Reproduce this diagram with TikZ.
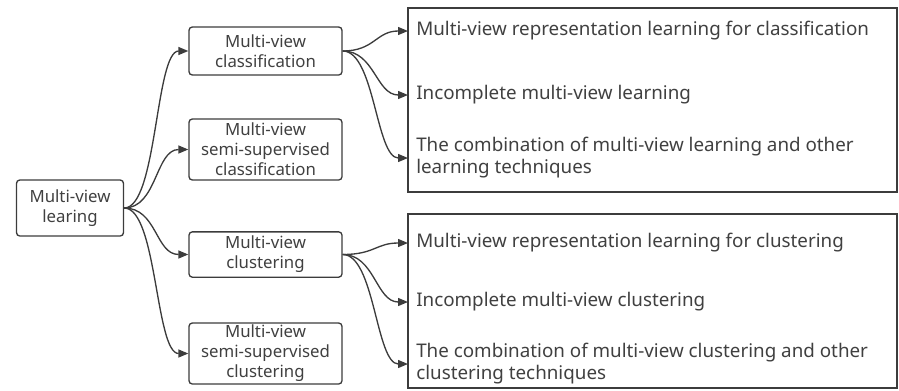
\documentclass[tikz,border=0pt]{standalone}
\usepackage{fontspec}
\setmainfont{Noto Sans}
\usepackage{tikz}
\usetikzlibrary{arrows.meta, positioning}
\definecolor{lineGray}{RGB}{60, 60, 60}
\definecolor{textGray}{RGB}{64, 64, 64}

\begin{document}
\begin{tikzpicture}[x=0.75pt, y=-0.75pt,
	topic/.style={draw=lineGray, line width=1pt, rounded corners=2.5pt, align=center,
		text=textGray, inner sep=0pt, font=\fontsize{12.6}{15}\selectfont},
	item/.style={anchor=west, inner xsep=6pt, inner ysep=0pt, align=left,
		text=textGray, font=\fontsize{14.1}{16.5}\selectfont},
	link/.style={draw=lineGray, line width=1pt, -{Triangle[length=7.5pt, width=6pt]}}]
			\useasboundingbox (0,0) rectangle (899,390);
			% Root and first level
			\node [topic, minimum width=80.25pt, minimum height=42pt] (root) at (70,208) {Multi-view\\learing};
			\node [topic, minimum width=114.75pt, minimum height=36pt] (cls) at (265.5,51) {Multi-view\\classification};
			\node [topic, minimum width=114.75pt, minimum height=45.75pt] (semicls) at (265.5,149.5) {Multi-view\\semi-supervised\\classification};
			\node [topic, minimum width=114.75pt, minimum height=34pt] (clu) at (265.5,254.5) {Multi-view\\clustering};
			\node [topic, minimum width=114.75pt, minimum height=45.75pt] (semiclu) at (265.5,353.5) {Multi-view\\semi-supervised\\clustering};
			
			% Right boxes
			\draw [lineGray, line width=1pt] (408,8) rectangle (897,192);
			\draw [lineGray, line width=1pt] (408,214) rectangle (897,388);
			
			\node [item] (cls1) at (408,31) {Multi-view representation learning for classification};
			\node [item] (cls2) at (408,95) {Incomplete multi-view learning};
			\node [item] (cls3) at (408,158) {The combination of multi-view learning and other\\learning techniques};
			\node [item] (clu1) at (408,243) {Multi-view representation learning for clustering};
			\node [item] (clu2) at (408,302) {Incomplete multi-view clustering};
			\node [item] (clu3) at (408,364) {The combination of multi-view clustering and other\\clustering techniques};
			
			% Links
			\foreach \t in {cls, semicls, clu, semiclu}
			{
				\draw [link] (root.east) .. controls +(33,0) and +(-33,0) .. (\t.west);
			}
			\foreach \t in {cls1, cls2, cls3}
			{
				\draw [link] (cls.east) .. controls +(32,0) and +(-32,0) .. (\t.west);
			}
			\foreach \t in {clu1, clu2, clu3}
			{
				\draw [link] (clu.east) .. controls +(32,0) and +(-32,0) .. (\t.west);
			}
			
		\end{tikzpicture}
\end{document}
